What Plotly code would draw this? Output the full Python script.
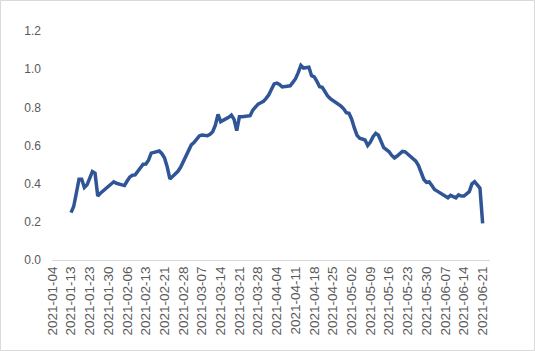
import pandas as pd
import plotly.graph_objects as go

# Category axis: calendar days with gaps (as in the source sheet)
start_date = "2021-01-04"
end_date = "2021-06-21"
missing_dates = ["2021-01-09", "2021-01-10", "2021-01-16", "2021-01-17",
                 "2021-01-18", "2021-02-14", "2021-06-05"]
all_dates = [d.strftime("%Y-%m-%d") for d in pd.date_range(start_date, end_date)
             if d.strftime("%Y-%m-%d") not in missing_dates]

tick_labels = ["2021-01-04", "2021-01-13", "2021-01-23", "2021-01-30", "2021-02-06",
               "2021-02-13", "2021-02-21", "2021-02-28", "2021-03-07", "2021-03-14",
               "2021-03-21", "2021-03-28", "2021-04-04", "2021-04-11", "2021-04-18",
               "2021-04-25", "2021-05-02", "2021-05-09", "2021-05-16", "2021-05-23",
               "2021-05-30", "2021-06-07", "2021-06-14", "2021-06-21"]

series_start = "2021-01-13"
values = [
    0.248, 0.28, 0.35, 0.423, 0.423, 0.38, 0.394, 0.429, 0.463, 0.454,
    0.335, 0.35, 0.363, 0.374, 0.386, 0.40, 0.41, 0.402, 0.397, 0.392,
    0.39, 0.414, 0.435, 0.444, 0.446, 0.465, 0.485, 0.502, 0.503, 0.523,
    0.56, 0.563, 0.567, 0.571, 0.557, 0.534, 0.487, 0.425, 0.438, 0.452,
    0.465, 0.486, 0.515, 0.545, 0.579, 0.603, 0.615, 0.631, 0.65, 0.655,
    0.654, 0.651, 0.659, 0.672, 0.706, 0.763, 0.725, 0.731, 0.738, 0.748,
    0.759, 0.737, 0.678, 0.751, 0.751, 0.752, 0.753, 0.756, 0.785, 0.802,
    0.817, 0.824, 0.831, 0.847, 0.866, 0.895, 0.923, 0.927, 0.92, 0.907,
    0.91, 0.912, 0.913, 0.931, 0.95, 0.982, 1.02, 1.006, 1.01, 1.01,
    0.966, 0.96, 0.936, 0.908, 0.905, 0.882, 0.86, 0.846, 0.836, 0.831,
    0.819, 0.806, 0.792, 0.772, 0.769, 0.738, 0.692, 0.653, 0.638, 0.631,
    0.629, 0.6, 0.618, 0.646, 0.664, 0.654, 0.626, 0.589, 0.578, 0.567,
    0.548, 0.535, 0.545, 0.557, 0.569, 0.567, 0.555, 0.539, 0.53, 0.518,
    0.495, 0.46, 0.422, 0.407, 0.409, 0.39, 0.37, 0.361, 0.353, 0.344,
    0.332, 0.326, 0.339, 0.333, 0.326, 0.341, 0.335, 0.335, 0.344, 0.358,
    0.399, 0.41, 0.394, 0.376, 0.192,
]

y_ticks = [0.0, 0.2, 0.4, 0.6, 0.8, 1.0, 1.2]

series_dates = all_dates[all_dates.index(series_start):][:len(values)]

W, H = 535, 351
ML, MR, MT, MB = 52, 45, 31, 91
pw, ph = W - ML - MR, H - MT - MB

fig = go.Figure()
fig.add_trace(go.Scatter(
    x=series_dates, y=values, mode="lines",
    line=dict(color="#2F5597", width=3.5),
    hoverinfo="skip", showlegend=False,
))

font_family = "Liberation Sans, Arial, sans-serif"
fig.update_layout(
    width=W, height=H,
    margin=dict(l=ML, r=MR, t=MT, b=MB, pad=0),
    paper_bgcolor="white", plot_bgcolor="white",
    font=dict(family=font_family, size=12, color="#595959"),
    shapes=[dict(
        type="rect", xref="paper", yref="paper",
        x0=(0.5 - ML) / pw, x1=(W - 0.5 - ML) / pw,
        y0=(MT + ph - (H - 0.5)) / ph, y1=(MT + ph - 0.5) / ph,
        line=dict(color="#D9D9D9", width=1), fillcolor="rgba(0,0,0,0)",
        layer="below",
    )],
)

fig.update_xaxes(
    type="category", categoryorder="array", categoryarray=all_dates,
    tickmode="array", tickvals=tick_labels, ticktext=tick_labels,
    tickangle=-90, range=[-0.11, 163.75],
    showgrid=False, zeroline=False, showline=True, linecolor="#D9D9D9", linewidth=1,
    ticks="", tickfont=dict(size=13.5, color="#595959"),
)
fig.update_yaxes(
    range=[0, 1.2], tickmode="array", tickvals=y_ticks,
    ticktext=[f"{v:.1f}" for v in y_ticks],
    showgrid=False, zeroline=False, showline=False, ticks="",
    ticklabelstandoff=10, tickfont=dict(size=12, color="#595959"),
)

fig.write_html("out.html")
